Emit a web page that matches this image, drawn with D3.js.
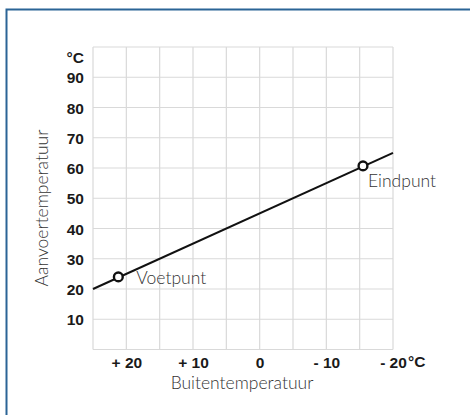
<!DOCTYPE html>
<html><head><meta charset="utf-8">
<script src="https://cdn.jsdelivr.net/npm/d3@7"></script>
<style>body{margin:0;background:#fff}svg{display:block}</style>
</head><body><svg id="c" width="470" height="415"></svg>
<script>
const xTickValues = [20, 10, 0, -10, -20];
const xTickLabels = ["+ 20", "+ 10", "0", "- 10", "- 20"];
const yTickValues = [10, 20, 30, 40, 50, 60, 70, 80, 90];
const xGridValues = [25, 20, 15, 10, 5, 0, -5, -10, -15, -20];
const yGridValues = [0, 10, 20, 30, 40, 50, 60, 70, 80, 90, 100];
const curveOutside = [25, -20];
const curveFlow = [20, 65];
const pointNames = ["Voetpunt", "Eindpunt"];
const pointOutside = [21.2, -15.5];
const pointFlow = [24, 60.7];

const tickFont = "Liberation Sans, Arial, sans-serif";
const labelFont = "Lato, sans-serif";
const svg = d3.select("#c");
// frame
svg.append("path").attr("d","M6.5,415 V9.5 H470").attr("fill","none").attr("stroke","#2b6496").attr("stroke-width",2);

const x = d3.scaleLinear().domain([25,-20]).range([93,393]);
const y = d3.scaleLinear().domain([0,100]).range([349.5,47]);

const g = svg.append("g");
g.selectAll(".vg").data(xGridValues).join("line")
  .attr("x1",d=>x(d)).attr("x2",d=>x(d)).attr("y1",y(0)).attr("y2",y(100))
  .attr("stroke","#d9d9d9").attr("stroke-width",1.2);
g.selectAll(".hg").data(yGridValues).join("line")
  .attr("x1",x(25)).attr("x2",x(-20)).attr("y1",d=>y(d)).attr("y2",d=>y(d))
  .attr("stroke","#d9d9d9").attr("stroke-width",1.2);

// y ticks
const yAxis = d3.axisLeft(y).tickValues(yTickValues).tickSize(0).tickPadding(0);
const ya = svg.append("g").attr("transform","translate(84,0)").call(yAxis);
ya.select(".domain").remove();
ya.selectAll("text").attr("font-family",tickFont).attr("font-weight","bold").attr("font-size",15.5).attr("fill","#1a1a1a").attr("dy","0.36em");
svg.append("text").attr("x",84).attr("y",y(96.5)).attr("dy","0.36em").attr("text-anchor","end")
  .attr("font-family",tickFont).attr("font-weight","bold").attr("font-size",15.5).attr("fill","#1a1a1a").text("°C");

// x ticks
const xAxis = d3.axisBottom(x).tickValues(xTickValues).tickFormat((d,i)=>xTickLabels[i]).tickSize(0).tickPadding(0);
const xa = svg.append("g").attr("transform","translate(0,357)").call(xAxis);
xa.select(".domain").remove();
xa.selectAll("text").attr("font-family",tickFont).attr("font-weight","bold").attr("font-size",15.5).attr("fill","#1a1a1a").attr("dy","0.71em");
svg.append("text").attr("x",x(-20)+15).attr("y",367)
  .attr("font-family",tickFont).attr("font-weight","bold").attr("font-size",15.5).attr("fill","#1a1a1a").text("°C");

// titles
svg.append("text").attr("x",242).attr("y",389).attr("text-anchor","middle")
  .attr("font-family",labelFont).attr("font-weight",300).attr("font-size",17.5).attr("fill","#333").text("Buitentemperatuur");
svg.append("text").attr("transform","translate(48,208) rotate(-90)").attr("text-anchor","middle")
  .attr("font-family",labelFont).attr("font-weight",300).attr("font-size",17.5).attr("fill","#333").text("Aanvoertemperatuur");

// line
const pts = curveOutside.map((d,i)=>[d,curveFlow[i]]);
svg.append("path").attr("d",d3.line().x(d=>x(d[0])).y(d=>y(d[1]))(pts))
  .attr("fill","none").attr("stroke","#111").attr("stroke-width",2);

const pd = pointNames.map((n,i)=>({n,xo:pointOutside[i],yf:pointFlow[i]}));
svg.selectAll(".pt").data(pd).join("circle")
  .attr("cx",d=>x(d.xo)).attr("cy",d=>y(d.yf)).attr("r",4.4)
  .attr("fill","#fff").attr("stroke","#111").attr("stroke-width",2.4);
svg.selectAll(".pl").data(pd).join("text")
  .attr("x",(d,i)=>x(d.xo)+(i===0?18:5)).attr("y",(d,i)=>y(d.yf)+(i===0?1:15))
  .attr("dy","0.35em")
  .attr("font-family",labelFont).attr("font-weight",300).attr("font-size",17.5).attr("fill","#333").text(d=>d.n);
</script></body></html>
